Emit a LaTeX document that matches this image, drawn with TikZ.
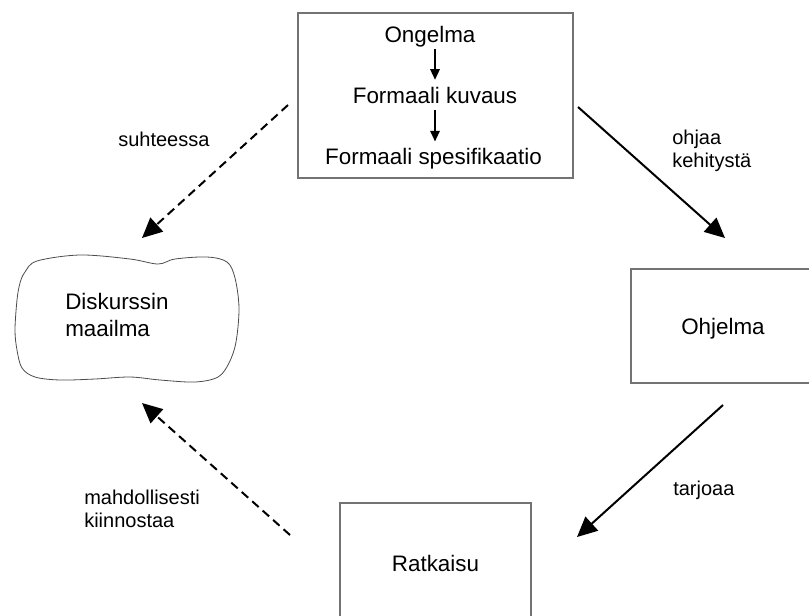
\documentclass[tikz,border=0pt]{standalone}
\usepackage{fontspec}
\setmainfont{Liberation Sans}
\usetikzlibrary{arrows.meta}
\begin{document}
\begin{tikzpicture}[x=0.75pt,y=-0.75pt,
  framebox/.style={draw=black!55, line width=0.8pt, rectangle, inner sep=0pt,
    font=\fontsize{16.8}{20}\selectfont, text depth=0pt},
  maintext/.style={font=\fontsize{16.8}{20}\selectfont, inner sep=0pt},
  edgelabel/.style={font=\fontsize{15}{17}\selectfont, inner sep=0pt, align=left, anchor=west},
  flow/.style={line width=1.5pt, -{Triangle[length=15pt,width=14pt]}},
  relation/.style={flow, dash pattern=on 6.5pt off 4pt},
  substep/.style={line width=1.4pt, -{Triangle[length=8pt,width=7pt]}},
]
\useasboundingbox (0,0) rectangle (809,615);

% problem refinement box
\node[framebox, minimum width=206.25pt, minimum height=123.75pt] (spec) at (435.5,95.5) {};
\node[maintext, anchor=base] (t1) at (430,42) {Ongelma};
\node[maintext, anchor=base] (t2) at (435,103) {Formaali kuvaus};
\node[maintext, anchor=base] (t3) at (433.5,164) {Formaali spesifikaatio};
\draw[substep, shorten <=1.8pt, shorten >=5pt] (t1.south -| t2.north) -- (t2.north);
\draw[substep, shorten <=5pt, shorten >=4.5pt] (t2.south) -- (t2.south |- t3.north);

% program and solution boxes
\node[framebox, minimum width=138pt, minimum height=85.5pt] (prog) at (723,326) {Ohjelma};
\node[framebox, minimum width=143.25pt, minimum height=90pt] (sol) at (435.5,563) {Ratkaisu};

% universe of discourse cloud
\draw[black!70, line width=0.6pt] plot[smooth cycle, tension=0.55] coordinates {
  (25,272) (37,261) (80,255) (130,259) (158,264) (175,259) (207,257) (227,262)
  (235,278) (239,308) (236,342) (229,363) (218,377) (195,382) (160,380) (130,377)
  (95,379) (60,380) (35,377) (22,368) (17,350) (15,330) (17,300) (20,283)};
\node[maintext, align=left, anchor=west] (world) at (65,315) {Diskurssin\\maailma};

% connector end points
\coordinate (specL) at (288,105);
\coordinate (worldT) at (142,238);
\coordinate (specR) at (578,107);
\coordinate (progT) at (725,238);
\coordinate (progB) at (723,405);
\coordinate (solR) at (577,537);
\coordinate (solL) at (290,535);
\coordinate (worldB) at (142,403);

\draw[relation] (specL) -- (worldT);
\draw[flow] (specR) -- (progT);
\draw[flow] (progB) -- (solR);
\draw[relation] (solL) -- (worldB);

% connector labels
\node[edgelabel] (l1) at (118,139) {suhteessa};
\node[edgelabel] (l2) at (672,151) {ohjaa\\kehitystä};
\node[edgelabel] (l3) at (673,490) {tarjoaa};
\node[edgelabel] (l4) at (84,509) {mahdollisesti\\kiinnostaa};
\end{tikzpicture}
\end{document}
